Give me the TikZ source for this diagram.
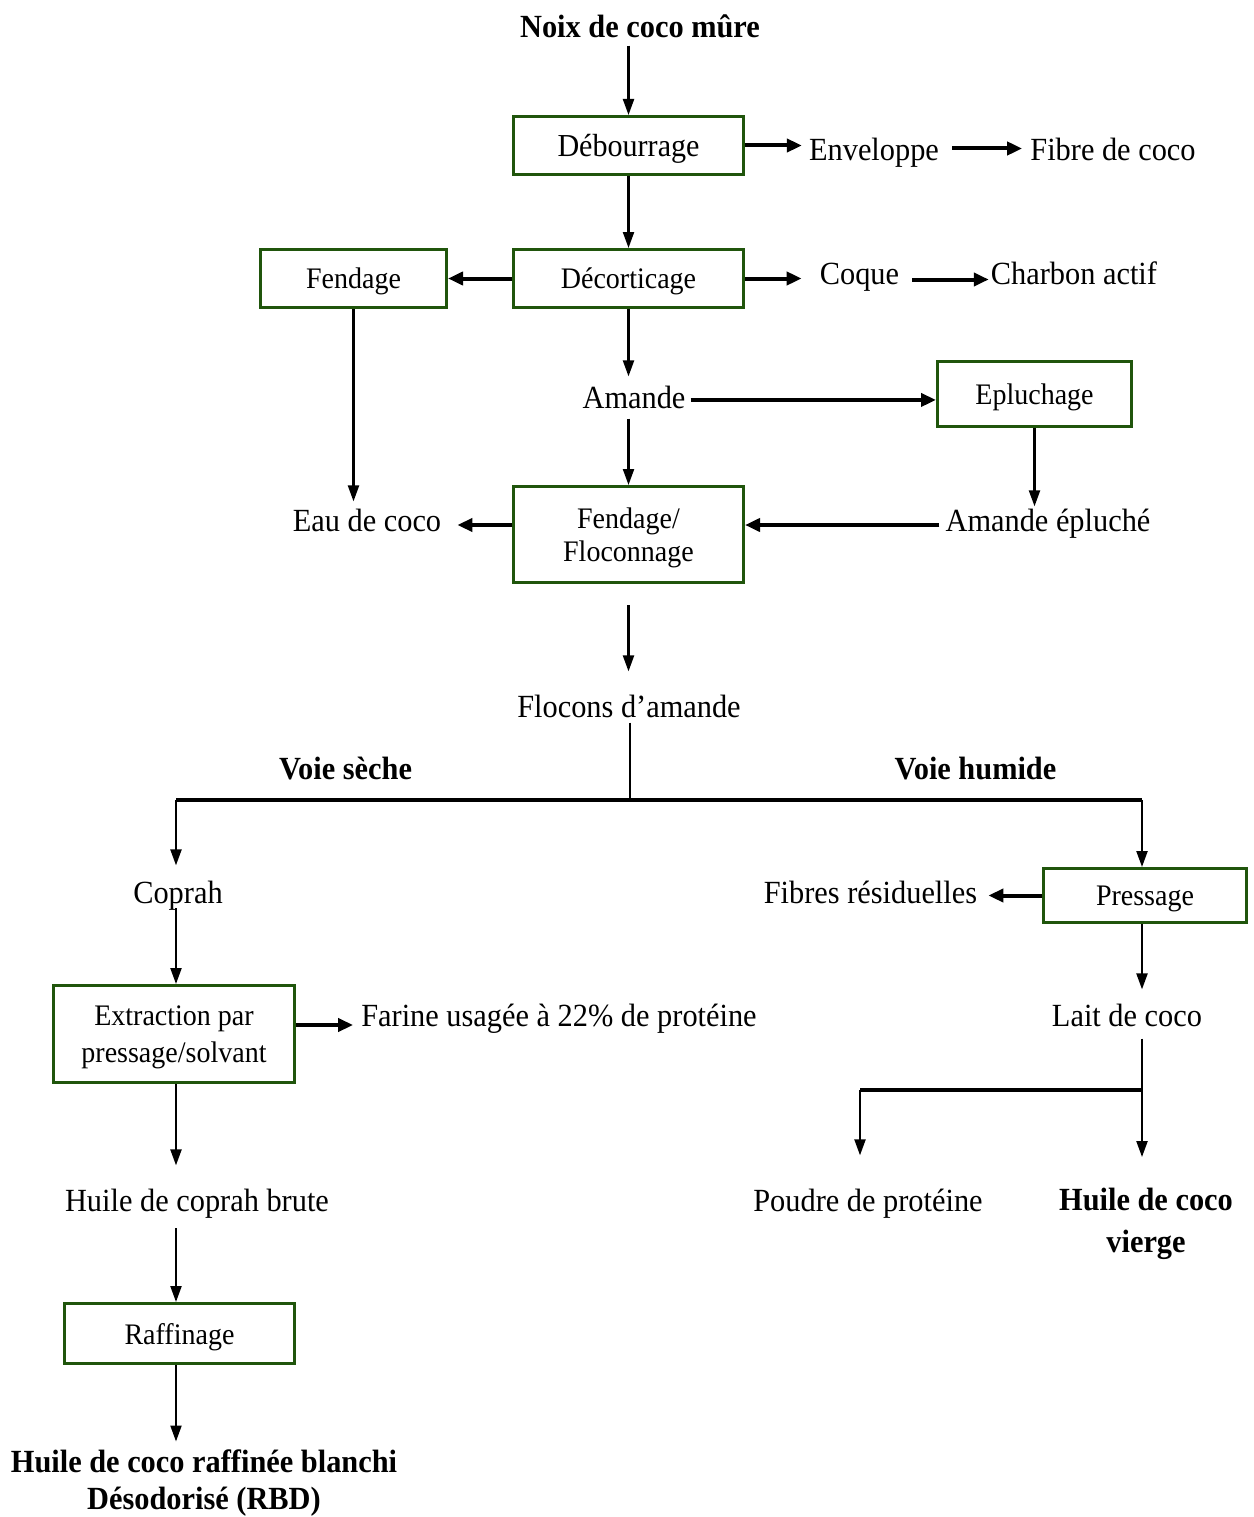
\documentclass[tikz,border=0pt]{standalone}
\usepackage{fontspec}
\setmainfont{Liberation Serif}[FakeStretch=0.94]
\usetikzlibrary{arrows.meta,calc}
\definecolor{boxgreen}{RGB}{32,85,12}
\begin{document}
\begin{tikzpicture}[x=1pt,y=-1pt,
  font=\fontsize{32.3}{37}\selectfont,
  box/.style={draw=boxgreen, line width=3pt, inner sep=0pt, align=center, text depth=0pt,
    font=\fontsize{29.8}{33}\selectfont},
  lab/.style={inner sep=0pt, anchor=base},
  arr/.style={line width=2.2pt, -{Triangle[length=16pt,width=11pt]}},
  harr/.style={line width=4pt, -{Triangle[length=15pt,width=13pt]}},
  bline/.style={line width=4pt},
  vline/.style={line width=2.2pt}]
\useasboundingbox (0,0) rectangle (1253,1517);
% boxes
\node[box, minimum width=230pt, minimum height=58pt, font=\fontsize{32}{36}\selectfont] (deb) at (628.5,145.5) {Débourrage};
\node[box, minimum width=230pt, minimum height=58pt] (dec) at (628.5,278.5) {Décorticage};
\node[box, minimum width=186pt, minimum height=58pt] (fen) at (353.5,278.5) {Fendage};
\node[box, minimum width=194pt, minimum height=65pt] (epl) at (1034.5,394) {Epluchage};
\node[box, minimum width=230pt, minimum height=96pt] (ff) at (628.5,534.5) {Fendage/\\Floconnage};
\node[box, minimum width=203pt, minimum height=54pt] (pre) at (1145,895.5) {Pressage};
\node[box, minimum width=241pt, minimum height=97pt, font=\fontsize{29.8}{37}\selectfont] (ext) at (174,1034) {Extraction par\\pressage/solvant};
\node[box, minimum width=230pt, minimum height=60pt] (raf) at (179.5,1333.5) {Raffinage};
% labels
\node[lab, font=\fontsize{32.3}{37}\selectfont\bfseries] (noix) at (640,38) {Noix de coco mûre};
\node[lab] (env) at (874,161) {Enveloppe};
\node[lab] (fib) at (1113,161) {Fibre de coco};
\node[lab] (coq) at (859.5,284) {Coque};
\node[lab] (cha) at (1074,284) {Charbon actif};
\node[lab] (ama) at (634,408) {Amande};
\node[lab] (eau) at (367,531) {Eau de coco};
\node[lab] (amep) at (1048,531) {Amande épluché};
\node[lab] (flo) at (629,717) {Flocons d’amande};
\node[lab, font=\fontsize{32.3}{37}\selectfont\bfseries] (vs) at (345.5,779) {Voie sèche};
\node[lab, font=\fontsize{32.3}{37}\selectfont\bfseries] (vh) at (975.5,779) {Voie humide};
\node[lab] (cop) at (178,903) {Coprah};
\node[lab] (fibr) at (870.5,903) {Fibres résiduelles};
\node[lab] (far) at (559,1026) {Farine usagée à 22\% de protéine};
\node[lab] (lait) at (1127,1026) {Lait de coco};
\node[lab] (hcb) at (197,1211) {Huile de coprah brute};
\node[lab] (pou) at (868,1211) {Poudre de protéine};
\node[inner sep=0pt, align=center, font=\fontsize{32.3}{42}\selectfont\bfseries] (hcv) at (1146,1224) {Huile de coco\\vierge};
\node[inner sep=0pt, align=center, font=\fontsize{32.3}{37}\selectfont\bfseries] (rbd) at (204,1483) {Huile de coco raffinée blanchi\\Désodorisé (RBD)};
% branch coordinates
\coordinate (br1) at (630,800);
\coordinate (brL) at (176,800);
\coordinate (brR) at (1142,800);
\coordinate (br2R) at (1142,1090);
\coordinate (br2L) at (860,1090);
% connectors
\draw[arr] ($(deb.north |- noix.south)+(0,7)$) -- (deb.north);
\draw[arr] (deb.south) -- (dec.north);
\draw[harr] (deb.east) -- ($(deb.east -| env.west)+(-7,0)$);
\draw[harr] ($(env.east |- deb.east)+(13,3)$) -- ($(fib.west |- deb.east)+(-8,3)$);
\draw[harr] (dec.west) -- (fen.east);
\draw[harr] (dec.east) -- ($(dec.east -| coq.west)+(-18,0)$);
\draw[harr] ($(coq.east |- dec.east)+(13,1)$) -- ($(cha.west |- dec.east)+(-2,1)$);
\draw[arr] (fen.south) -- ($(fen.south |- eau.north)+(0,-7)$);
\draw[arr] (dec.south) -- ($(dec.south |- ama.north)+(0,-9)$);
\draw[harr] ($(ama.east)+(5,3)$) -- ($(epl.west |- ama.east)+(0,3)$);
\draw[arr] ($(ff.north |- ama.south)+(0,10)$) -- (ff.north);
\draw[arr] (epl.south) -- ($(epl.south |- amep.north)+(0,-2)$);
\draw[harr] ($(amep.west |- ff.east)+(-6,-9.5)$) -- ($(ff.east)+(0,-9.5)$);
\draw[harr] ($(ff.west)+(0,-9.5)$) -- ($(eau.east |- ff.west)+(16,-9.5)$);
\draw[arr] ($(ff.south)+(0,21)$) -- ($(ff.south |- flo.north)+(0,-23)$);
\draw[vline] ($(br1 |- flo.south)+(0,5)$) -- (br1);
\draw[bline] (brL) -- (brR);
\draw[arr] (brL) -- ($(brL |- cop.north)+(0,-15)$);
\draw[arr] (brR) -- (brR |- pre.north);
\draw[arr] ($(brL |- cop.south)+(0,-2)$) -- (brL |- ext.north);
\draw[harr] ($(ext.east)+(0,-9)$) -- ($(far.west |- ext.east)+(-8,-9)$);
\draw[harr] (pre.west) -- ($(fibr.east |- pre.west)+(11,0)$);
\draw[arr] (brR |- pre.south) -- ($(brR |- lait.north)+(0,-14)$);
\draw[vline] ($(br2R |- lait.south)+(0,12)$) -- (br2R);
\draw[bline] (br2L) -- (br2R);
\draw[arr] (br2L) -- ($(br2L |- pou.north)+(0,-33)$);
\draw[arr] (br2R) -- ($(br2R |- hcv.north)+(0,-31)$);
\draw[arr] (brL |- ext.south) -- ($(brL |- hcb.north)+(0,-23)$);
\draw[arr] ($(brL |- hcb.south)+(0,10)$) -- (brL |- raf.north);
\draw[arr] (brL |- raf.south) -- ($(brL |- rbd.north)+(0,-8)$);
\end{tikzpicture}
\end{document}
